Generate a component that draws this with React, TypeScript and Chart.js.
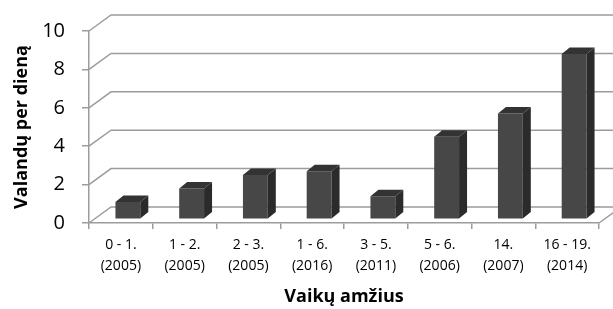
import { useEffect, useRef } from "react";
import { Chart, registerables } from "chart.js";

Chart.register(...registerables);

const categories: string[][] = [
  ["0 - 1.", "(2005)"],
  ["1 - 2.", "(2005)"],
  ["2 - 3.", "(2005)"],
  ["1 - 6.", "(2016)"],
  ["3 - 5.", "(2011)"],
  ["5 - 6.", "(2006)"],
  ["14.", "(2007)"],
  ["16 - 19.", "(2014)"],
];
const hours: number[] = [0.9, 1.6, 2.3, 2.5, 1.2, 4.3, 5.5, 8.6];
const yTickValues: number[] = [0, 2, 4, 6, 8, 10];

const yTitle = "Valandų per dieną";
const xTitle = "Vaikų amžius";

const GRID = "#9c9c9c";
const FRONT = "#474747";
const SIDE = "#2b2b2b";
const TOP = "#333333";
const FONT = "'Open Sans', 'Noto Sans', sans-serif";

const BACK_DX = 22;
const BACK_DY = -16;
const BAR_DX = 7;
const BAR_DY = -3.8;
const DEPTH_DX = 8;
const DEPTH_DY = -6.5;

const walls3d = {
  id: "walls3d",
  beforeDatasetsDraw(chart: any) {
    const { ctx, chartArea, scales } = chart;
    const y = scales.y;
    ctx.save();
    ctx.strokeStyle = GRID;
    ctx.lineWidth = 1.5;
    y.ticks.forEach((t: any) => {
      const fy = y.getPixelForValue(t.value);
      ctx.beginPath();
      ctx.moveTo(chartArea.left, fy);
      ctx.lineTo(chartArea.left + BACK_DX, fy + BACK_DY);
      ctx.lineTo(chart.width, fy + BACK_DY);
      ctx.stroke();
    });
    const fy0 = y.getPixelForValue(0);
    ctx.beginPath();
    ctx.moveTo(chartArea.right, fy0);
    ctx.lineTo(chartArea.right + BACK_DX, fy0 + BACK_DY);
    ctx.stroke();
    ctx.restore();
    ctx.save();
    ctx.translate(BAR_DX, BAR_DY);
  },
  afterDatasetsDraw(chart: any) {
    const { ctx } = chart;
    ctx.restore();
    const meta = chart.getDatasetMeta(0);
    ctx.save();
    meta.data.forEach((bar: any) => {
      const p = bar.getProps(["x", "y", "base", "width"], true);
      const l = p.x - p.width / 2 + BAR_DX;
      const r = p.x + p.width / 2 + BAR_DX;
      const t = p.y + BAR_DY;
      const b = p.base + BAR_DY;
      ctx.fillStyle = SIDE;
      ctx.beginPath();
      ctx.moveTo(r, t);
      ctx.lineTo(r + DEPTH_DX, t + DEPTH_DY);
      ctx.lineTo(r + DEPTH_DX, b + DEPTH_DY);
      ctx.lineTo(r, b);
      ctx.closePath();
      ctx.fill();
      ctx.fillStyle = TOP;
      ctx.beginPath();
      ctx.moveTo(l, t);
      ctx.lineTo(l + DEPTH_DX, t + DEPTH_DY);
      ctx.lineTo(r + DEPTH_DX, t + DEPTH_DY);
      ctx.lineTo(r, t);
      ctx.closePath();
      ctx.fill();
    });
    ctx.restore();
  },
};

export default function App() {
  const ref = useRef<HTMLCanvasElement | null>(null);
  useEffect(() => {
    document.body.style.margin = "0";
    if (!ref.current) return;
    const chart = new Chart(ref.current, {
      type: "bar",
      data: {
        labels: categories,
        datasets: [
          {
            data: hours,
            backgroundColor: FRONT,
            borderWidth: 0,
            categoryPercentage: 1,
            barPercentage: 0.39,
          },
        ],
      },
      plugins: [walls3d],
      options: {
        animation: false,
        responsive: true,
        maintainAspectRatio: false,
        layout: { padding: { left: 0, right: 14, top: 31, bottom: 0 } },
        plugins: { legend: { display: false }, tooltip: { enabled: false } },
        scales: {
          x: {
            grid: {
              drawOnChartArea: false,
              drawTicks: true,
              tickLength: 6,
              color: GRID,
              lineWidth: 1.5,
              offset: true,
            },
            border: { display: true, color: GRID, width: 1.5 },
            ticks: {
              autoSkip: false,
              maxRotation: 0,
              minRotation: 0,
              padding: 6,
              color: "#000",
              font: { family: FONT, size: 14, lineHeight: 1.5 },
            },
            title: {
              display: true,
              text: xTitle,
              color: "#000",
              font: { family: FONT, size: 18, weight: "bold", lineHeight: 1.2 },
              padding: { top: 0, bottom: 1 },
            },
            afterFit(scale: any) {
              scale.height = 86;
            },
          },
          y: {
            min: 0,
            max: 10,
            afterBuildTicks(scale: any) {
              scale.ticks = yTickValues.map((v) => ({ value: v }));
            },
            grid: {
              drawOnChartArea: false,
              drawTicks: true,
              tickLength: 7,
              color: GRID,
              lineWidth: 1.5,
            },
            border: { display: true, color: GRID, width: 1.5 },
            ticks: {
              padding: 17,
              color: "#000",
              font: { family: FONT, size: 20 },
            },
            title: {
              display: true,
              text: yTitle,
              color: "#000",
              font: { family: FONT, size: 18, weight: "bold", lineHeight: 1.2 },
              padding: { top: 11, bottom: 0 },
            },
            afterFit(scale: any) {
              scale.width = 89;
            },
          },
        },
      },
    });
    return () => chart.destroy();
  }, []);
  return (
    <div style={{ width: 613, height: 309, position: "relative" }}>
      <canvas ref={ref} />
    </div>
  );
}
